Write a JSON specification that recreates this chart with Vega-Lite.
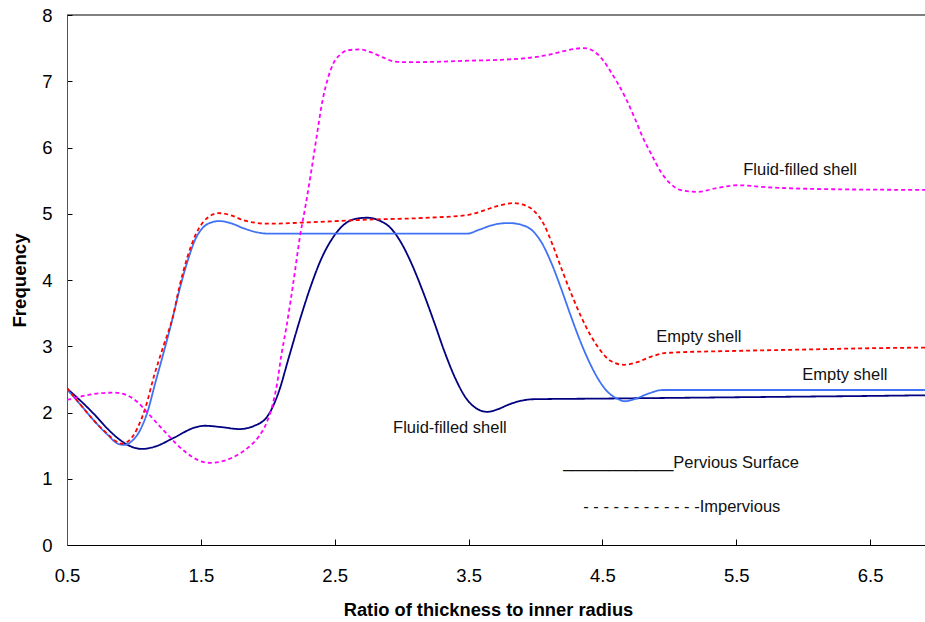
{
  "$schema": "https://vega.github.io/schema/vega-lite/v6.json",
  "width": 858,
  "height": 530,
  "autosize": {"type": "none"},
  "padding": {"left": 67, "top": 15, "right": 0, "bottom": 77},
  "background": "white",
  "config": {
    "view": {"stroke": null},
    "font": "Liberation Sans",
    "axis": {"grid": false, "domainColor": "black", "tickColor": "black", "labelColor": "black", "titleColor": "black", "labelFont": "Liberation Sans", "titleFont": "Liberation Sans"}
  },
  "datasets": {
    "curves": [
      {"series": "Fluid pervious", "x": 0.5, "y": 2.36},
      {"series": "Fluid pervious", "x": 0.6, "y": 2.18},
      {"series": "Fluid pervious", "x": 0.7, "y": 1.98},
      {"series": "Fluid pervious", "x": 0.8, "y": 1.76},
      {"series": "Fluid pervious", "x": 0.9, "y": 1.58},
      {"series": "Fluid pervious", "x": 1.0, "y": 1.47},
      {"series": "Fluid pervious", "x": 1.06, "y": 1.45},
      {"series": "Fluid pervious", "x": 1.15, "y": 1.48},
      {"series": "Fluid pervious", "x": 1.3, "y": 1.62},
      {"series": "Fluid pervious", "x": 1.45, "y": 1.77},
      {"series": "Fluid pervious", "x": 1.53, "y": 1.8},
      {"series": "Fluid pervious", "x": 1.65, "y": 1.78},
      {"series": "Fluid pervious", "x": 1.79, "y": 1.75},
      {"series": "Fluid pervious", "x": 1.9, "y": 1.8},
      {"series": "Fluid pervious", "x": 2.0, "y": 1.95},
      {"series": "Fluid pervious", "x": 2.08, "y": 2.3},
      {"series": "Fluid pervious", "x": 2.16, "y": 2.85},
      {"series": "Fluid pervious", "x": 2.24, "y": 3.4},
      {"series": "Fluid pervious", "x": 2.32, "y": 3.9},
      {"series": "Fluid pervious", "x": 2.4, "y": 4.32},
      {"series": "Fluid pervious", "x": 2.48, "y": 4.62},
      {"series": "Fluid pervious", "x": 2.56, "y": 4.82},
      {"series": "Fluid pervious", "x": 2.65, "y": 4.92},
      {"series": "Fluid pervious", "x": 2.74, "y": 4.94},
      {"series": "Fluid pervious", "x": 2.83, "y": 4.9},
      {"series": "Fluid pervious", "x": 2.92, "y": 4.78},
      {"series": "Fluid pervious", "x": 3.0, "y": 4.55},
      {"series": "Fluid pervious", "x": 3.08, "y": 4.22},
      {"series": "Fluid pervious", "x": 3.16, "y": 3.82},
      {"series": "Fluid pervious", "x": 3.24, "y": 3.38},
      {"series": "Fluid pervious", "x": 3.32, "y": 2.92},
      {"series": "Fluid pervious", "x": 3.4, "y": 2.52},
      {"series": "Fluid pervious", "x": 3.48, "y": 2.22},
      {"series": "Fluid pervious", "x": 3.56, "y": 2.06},
      {"series": "Fluid pervious", "x": 3.64, "y": 2.01},
      {"series": "Fluid pervious", "x": 3.72, "y": 2.05},
      {"series": "Fluid pervious", "x": 3.8, "y": 2.12},
      {"series": "Fluid pervious", "x": 3.9, "y": 2.18},
      {"series": "Fluid pervious", "x": 3.98, "y": 2.2},
      {"series": "Fluid pervious", "x": 4.5, "y": 2.21},
      {"series": "Fluid pervious", "x": 5.0, "y": 2.22},
      {"series": "Fluid pervious", "x": 5.5, "y": 2.23},
      {"series": "Fluid pervious", "x": 6.0, "y": 2.24},
      {"series": "Fluid pervious", "x": 6.5, "y": 2.25},
      {"series": "Fluid pervious", "x": 6.91, "y": 2.26},

      {"series": "Empty pervious", "x": 0.5, "y": 2.35},
      {"series": "Empty pervious", "x": 0.6, "y": 2.12},
      {"series": "Empty pervious", "x": 0.7, "y": 1.88},
      {"series": "Empty pervious", "x": 0.8, "y": 1.67},
      {"series": "Empty pervious", "x": 0.88, "y": 1.53},
      {"series": "Empty pervious", "x": 0.93, "y": 1.51},
      {"series": "Empty pervious", "x": 0.98, "y": 1.56},
      {"series": "Empty pervious", "x": 1.05, "y": 1.75},
      {"series": "Empty pervious", "x": 1.1, "y": 2.0},
      {"series": "Empty pervious", "x": 1.16, "y": 2.45},
      {"series": "Empty pervious", "x": 1.22, "y": 2.89},
      {"series": "Empty pervious", "x": 1.28, "y": 3.35},
      {"series": "Empty pervious", "x": 1.34, "y": 3.85},
      {"series": "Empty pervious", "x": 1.4, "y": 4.28},
      {"series": "Empty pervious", "x": 1.46, "y": 4.62},
      {"series": "Empty pervious", "x": 1.52, "y": 4.8},
      {"series": "Empty pervious", "x": 1.58, "y": 4.87},
      {"series": "Empty pervious", "x": 1.64, "y": 4.89},
      {"series": "Empty pervious", "x": 1.72, "y": 4.86},
      {"series": "Empty pervious", "x": 1.82, "y": 4.78},
      {"series": "Empty pervious", "x": 1.92, "y": 4.72},
      {"series": "Empty pervious", "x": 2.0, "y": 4.7},
      {"series": "Empty pervious", "x": 2.5, "y": 4.7},
      {"series": "Empty pervious", "x": 3.0, "y": 4.7},
      {"series": "Empty pervious", "x": 3.49, "y": 4.7},
      {"series": "Empty pervious", "x": 3.58, "y": 4.76},
      {"series": "Empty pervious", "x": 3.7, "y": 4.84},
      {"series": "Empty pervious", "x": 3.8, "y": 4.86},
      {"series": "Empty pervious", "x": 3.9, "y": 4.83},
      {"series": "Empty pervious", "x": 3.98, "y": 4.74},
      {"series": "Empty pervious", "x": 4.05, "y": 4.55},
      {"series": "Empty pervious", "x": 4.12, "y": 4.25},
      {"series": "Empty pervious", "x": 4.19, "y": 3.88},
      {"series": "Empty pervious", "x": 4.26, "y": 3.48},
      {"series": "Empty pervious", "x": 4.33, "y": 3.1},
      {"series": "Empty pervious", "x": 4.4, "y": 2.77},
      {"series": "Empty pervious", "x": 4.47, "y": 2.5},
      {"series": "Empty pervious", "x": 4.54, "y": 2.31},
      {"series": "Empty pervious", "x": 4.61, "y": 2.21},
      {"series": "Empty pervious", "x": 4.67, "y": 2.17},
      {"series": "Empty pervious", "x": 4.75, "y": 2.21},
      {"series": "Empty pervious", "x": 4.85, "y": 2.29},
      {"series": "Empty pervious", "x": 4.95, "y": 2.34},
      {"series": "Empty pervious", "x": 5.0, "y": 2.34},
      {"series": "Empty pervious", "x": 5.5, "y": 2.34},
      {"series": "Empty pervious", "x": 6.0, "y": 2.34},
      {"series": "Empty pervious", "x": 6.91, "y": 2.34},

      {"series": "Empty impervious", "x": 0.5, "y": 2.37},
      {"series": "Empty impervious", "x": 0.6, "y": 2.12},
      {"series": "Empty impervious", "x": 0.7, "y": 1.88},
      {"series": "Empty impervious", "x": 0.8, "y": 1.68},
      {"series": "Empty impervious", "x": 0.87, "y": 1.56},
      {"series": "Empty impervious", "x": 0.91, "y": 1.53},
      {"series": "Empty impervious", "x": 0.96, "y": 1.57},
      {"series": "Empty impervious", "x": 1.03, "y": 1.78},
      {"series": "Empty impervious", "x": 1.09, "y": 2.1},
      {"series": "Empty impervious", "x": 1.15, "y": 2.55},
      {"series": "Empty impervious", "x": 1.22, "y": 3.0},
      {"series": "Empty impervious", "x": 1.29, "y": 3.44},
      {"series": "Empty impervious", "x": 1.34, "y": 3.9},
      {"series": "Empty impervious", "x": 1.4, "y": 4.35},
      {"series": "Empty impervious", "x": 1.46, "y": 4.68},
      {"series": "Empty impervious", "x": 1.52, "y": 4.88},
      {"series": "Empty impervious", "x": 1.58, "y": 4.98},
      {"series": "Empty impervious", "x": 1.63, "y": 5.01},
      {"series": "Empty impervious", "x": 1.72, "y": 4.98},
      {"series": "Empty impervious", "x": 1.82, "y": 4.9},
      {"series": "Empty impervious", "x": 1.92, "y": 4.86},
      {"series": "Empty impervious", "x": 2.0, "y": 4.85},
      {"series": "Empty impervious", "x": 2.3, "y": 4.87},
      {"series": "Empty impervious", "x": 2.74, "y": 4.91},
      {"series": "Empty impervious", "x": 3.2, "y": 4.94},
      {"series": "Empty impervious", "x": 3.49, "y": 4.98},
      {"series": "Empty impervious", "x": 3.6, "y": 5.04},
      {"series": "Empty impervious", "x": 3.72, "y": 5.12},
      {"series": "Empty impervious", "x": 3.83, "y": 5.16},
      {"series": "Empty impervious", "x": 3.9, "y": 5.14},
      {"series": "Empty impervious", "x": 3.98, "y": 5.06},
      {"series": "Empty impervious", "x": 4.06, "y": 4.85},
      {"series": "Empty impervious", "x": 4.13, "y": 4.52},
      {"series": "Empty impervious", "x": 4.2, "y": 4.14},
      {"series": "Empty impervious", "x": 4.27, "y": 3.78},
      {"series": "Empty impervious", "x": 4.34, "y": 3.45},
      {"series": "Empty impervious", "x": 4.41, "y": 3.17},
      {"series": "Empty impervious", "x": 4.48, "y": 2.95},
      {"series": "Empty impervious", "x": 4.56, "y": 2.78},
      {"series": "Empty impervious", "x": 4.66, "y": 2.72},
      {"series": "Empty impervious", "x": 4.76, "y": 2.76},
      {"series": "Empty impervious", "x": 4.86, "y": 2.84},
      {"series": "Empty impervious", "x": 4.98, "y": 2.9},
      {"series": "Empty impervious", "x": 5.5, "y": 2.93},
      {"series": "Empty impervious", "x": 6.0, "y": 2.95},
      {"series": "Empty impervious", "x": 6.5, "y": 2.97},
      {"series": "Empty impervious", "x": 6.91, "y": 2.98},

      {"series": "Fluid impervious", "x": 0.5, "y": 2.19},
      {"series": "Fluid impervious", "x": 0.6, "y": 2.24},
      {"series": "Fluid impervious", "x": 0.7, "y": 2.28},
      {"series": "Fluid impervious", "x": 0.85, "y": 2.3},
      {"series": "Fluid impervious", "x": 0.95, "y": 2.26},
      {"series": "Fluid impervious", "x": 1.03, "y": 2.15},
      {"series": "Fluid impervious", "x": 1.1, "y": 2.0},
      {"series": "Fluid impervious", "x": 1.18, "y": 1.82},
      {"series": "Fluid impervious", "x": 1.25, "y": 1.67},
      {"series": "Fluid impervious", "x": 1.32, "y": 1.52},
      {"series": "Fluid impervious", "x": 1.4, "y": 1.38},
      {"series": "Fluid impervious", "x": 1.48, "y": 1.28},
      {"series": "Fluid impervious", "x": 1.57, "y": 1.24},
      {"series": "Fluid impervious", "x": 1.67, "y": 1.27},
      {"series": "Fluid impervious", "x": 1.79, "y": 1.38},
      {"series": "Fluid impervious", "x": 1.87, "y": 1.5},
      {"series": "Fluid impervious", "x": 1.93, "y": 1.63},
      {"series": "Fluid impervious", "x": 1.99, "y": 1.84},
      {"series": "Fluid impervious", "x": 2.04, "y": 2.15},
      {"series": "Fluid impervious", "x": 2.07, "y": 2.44},
      {"series": "Fluid impervious", "x": 2.1, "y": 2.85},
      {"series": "Fluid impervious", "x": 2.14, "y": 3.3},
      {"series": "Fluid impervious", "x": 2.19, "y": 3.95},
      {"series": "Fluid impervious", "x": 2.24, "y": 4.65},
      {"series": "Fluid impervious", "x": 2.28, "y": 5.1},
      {"series": "Fluid impervious", "x": 2.32, "y": 5.58},
      {"series": "Fluid impervious", "x": 2.36, "y": 6.1},
      {"series": "Fluid impervious", "x": 2.41, "y": 6.72},
      {"series": "Fluid impervious", "x": 2.45, "y": 7.05},
      {"series": "Fluid impervious", "x": 2.49, "y": 7.27},
      {"series": "Fluid impervious", "x": 2.54, "y": 7.4},
      {"series": "Fluid impervious", "x": 2.6, "y": 7.47},
      {"series": "Fluid impervious", "x": 2.69, "y": 7.48},
      {"series": "Fluid impervious", "x": 2.78, "y": 7.43},
      {"series": "Fluid impervious", "x": 2.86, "y": 7.36},
      {"series": "Fluid impervious", "x": 2.94, "y": 7.3},
      {"series": "Fluid impervious", "x": 3.0, "y": 7.29},
      {"series": "Fluid impervious", "x": 3.14, "y": 7.29},
      {"series": "Fluid impervious", "x": 3.5, "y": 7.31},
      {"series": "Fluid impervious", "x": 3.8, "y": 7.33},
      {"series": "Fluid impervious", "x": 3.98, "y": 7.36},
      {"series": "Fluid impervious", "x": 4.1, "y": 7.4},
      {"series": "Fluid impervious", "x": 4.2, "y": 7.45},
      {"series": "Fluid impervious", "x": 4.36, "y": 7.5},
      {"series": "Fluid impervious", "x": 4.43, "y": 7.46},
      {"series": "Fluid impervious", "x": 4.5, "y": 7.33},
      {"series": "Fluid impervious", "x": 4.56, "y": 7.15},
      {"series": "Fluid impervious", "x": 4.62, "y": 6.95},
      {"series": "Fluid impervious", "x": 4.68, "y": 6.72},
      {"series": "Fluid impervious", "x": 4.74, "y": 6.45},
      {"series": "Fluid impervious", "x": 4.8, "y": 6.16},
      {"series": "Fluid impervious", "x": 4.87, "y": 5.88},
      {"series": "Fluid impervious", "x": 4.94, "y": 5.62},
      {"series": "Fluid impervious", "x": 5.01, "y": 5.45},
      {"series": "Fluid impervious", "x": 5.08, "y": 5.36},
      {"series": "Fluid impervious", "x": 5.21, "y": 5.33},
      {"series": "Fluid impervious", "x": 5.36, "y": 5.39},
      {"series": "Fluid impervious", "x": 5.51, "y": 5.43},
      {"series": "Fluid impervious", "x": 5.73, "y": 5.4},
      {"series": "Fluid impervious", "x": 6.22, "y": 5.37},
      {"series": "Fluid impervious", "x": 6.91, "y": 5.36}
    ],
    "labels": [
      {"x": 5.552, "y": 5.585, "text": "Fluid-filled shell"},
      {"x": 4.902, "y": 3.064, "text": "Empty shell"},
      {"x": 5.993, "y": 2.49, "text": "Empty shell"},
      {"x": 2.936, "y": 1.69, "text": "Fluid-filled shell"},
      {"x": 4.207, "y": 1.16, "text": "____________Pervious Surface"},
      {"x": 4.357, "y": 0.5, "text": "- - - - - - - - - - - -Impervious"}
    ],
    "top": [{"y": 8}]
  },
  "layer": [
    {
      "data": {"name": "top"},
      "mark": {"type": "rule", "color": "black", "strokeWidth": 1},
      "encoding": {"y": {"field": "y", "type": "quantitative"}}
    },
    {
      "data": {"name": "curves"},
      "mark": {"type": "line", "interpolate": "monotone", "clip": true},
      "encoding": {
        "x": {
          "field": "x", "type": "quantitative",
          "scale": {"domain": [0.5, 6.91], "nice": false, "zero": false},
          "axis": {
            "title": "Ratio of thickness to inner radius",
            "values": [0.5, 1.5, 2.5, 3.5, 4.5, 5.5, 6.5],
            "format": ".1f",
            "labelFontSize": 18.5,
            "labelPadding": 27,
            "tickSize": -6,
            "labelFlush": false,
            "titleFontSize": 18.3,
            "titleFontWeight": "bold",
            "titleX": 421,
            "titleY": 70,
            "titleAlign": "center",
            "titleBaseline": "alphabetic"
          }
        },
        "y": {
          "field": "y", "type": "quantitative",
          "scale": {"domain": [0, 8], "nice": false},
          "axis": {
            "title": "Frequency",
            "values": [0, 1, 2, 3, 4, 5, 6, 7, 8],
            "format": "d",
            "labelFontSize": 18.5,
            "labelPadding": 20,
            "tickSize": -5,
            "titleFontSize": 18.6,
            "titleFontWeight": "bold",
            "titleX": -42,
            "titleBaseline": "alphabetic",
            "domainColor": "#555555"
          }
        },
        "color": {
          "field": "series", "type": "nominal", "legend": null,
          "scale": {"domain": ["Fluid pervious", "Empty pervious", "Empty impervious", "Fluid impervious"], "range": ["#000080", "#3F72F5", "#FF0000", "#FF00FF"]}
        },
        "strokeDash": {
          "field": "series", "type": "nominal", "legend": null,
          "scale": {"domain": ["Fluid pervious", "Empty pervious", "Empty impervious", "Fluid impervious"], "range": [[1, 0], [1, 0], [4, 3], [4, 3]]}
        },
        "strokeWidth": {
          "field": "series", "type": "nominal", "legend": null,
          "scale": {"domain": ["Fluid pervious", "Empty pervious", "Empty impervious", "Fluid impervious"], "range": [1.8, 1.8, 2.3, 2.3]}
        }
      }
    },
    {
      "data": {"name": "labels"},
      "mark": {"type": "text", "align": "left", "baseline": "alphabetic", "fontSize": 16.5, "font": "Liberation Sans", "color": "#111111"},
      "encoding": {
        "x": {"field": "x", "type": "quantitative"},
        "y": {"field": "y", "type": "quantitative"},
        "text": {"field": "text"}
      }
    }
  ]
}
